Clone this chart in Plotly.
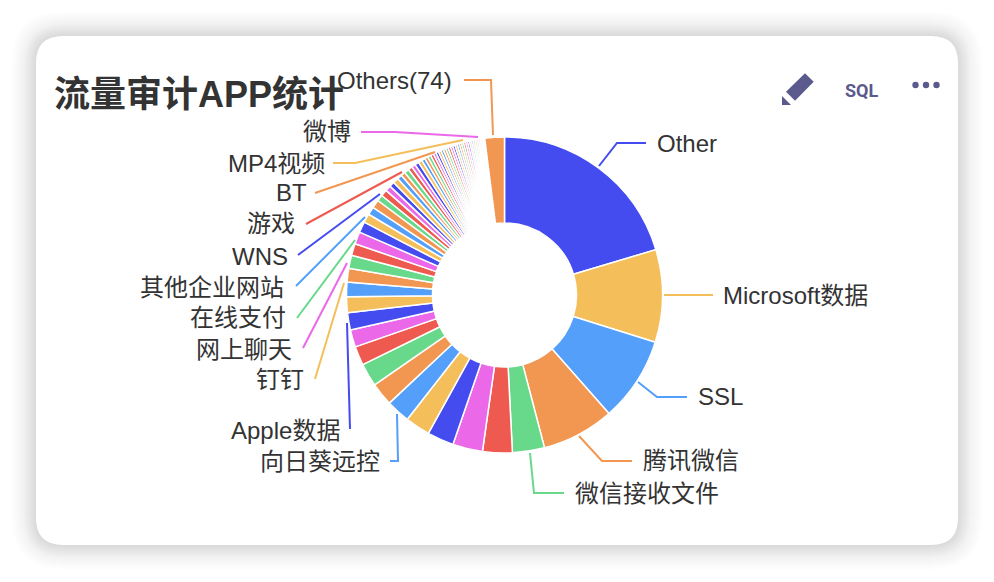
import math
import plotly.graph_objects as go

W, H = 994, 582

TITLE = "流量审计APP统计"
PALETTE = ["#444CF0", "#F4BF5B", "#549FF9", "#F29752", "#68D98A", "#EE5A50", "#EB68E8"]

NAMED = {0: "Other", 1: "Microsoft数据", 2: "SSL", 3: "腾讯微信", 4: "微信接收文件",
         9: "向日葵远控", 14: "Apple数据", 15: "钉钉", 20: "网上聊天", 25: "在线支付",
         30: "其他企业网站", 35: "WNS", 40: "游戏", 45: "BT", 50: "MP4视频", 55: "微博",
         66: "Others(74)"}

VALUES = [73.3, 34.1, 31.2, 26.7, 11.8, 10.9, 11.0, 9.8, 9.2, 8.8,
          8.5, 8.5, 7.0, 6.4, 6.3, 5.8, 5.4, 5.0, 4.8, 4.4,
          4.5, 4.0, 3.3, 2.9, 3.1, 2.3, 2.4, 2.1, 1.9, 2.0,
          1.8, 1.6, 1.7, 1.6, 1.4, 1.5, 1.4, 1.3, 1.2, 1.2,
          1.1, 1.0, 1.0, 0.98, 0.96, 0.95, 0.92, 0.9, 0.88, 0.86,
          0.85, 0.82, 0.8, 0.78, 0.78, 0.75, 0.72, 0.7, 0.68, 0.66,
          0.65, 0.62, 0.6, 0.58, 0.56, 0.55, 7.2]

LABELS = [NAMED.get(i, f"应用{i + 1}") for i in range(len(VALUES))]
COLORS = [PALETTE[i % 7] for i in range(len(VALUES))]

# Label placement: text, colour index, anchor, text x, text y, leader polyline (page pixels)
CALLOUTS = [
    ("Other", 0, "left", 655, 143.5, [(599, 166), (617, 143), (646, 143)]),
    ("Microsoft数据", 1, "left", 721, 295.5, [(664, 295), (713, 295)]),
    ("SSL", 2, "left", 696, 396.5, [(638, 382), (657, 397), (687, 397)]),
    ("腾讯微信", 3, "left", 641, 460, [(579, 436), (602, 461), (632, 461)]),
    ("微信接收文件", 4, "left", 573, 493, [(530, 453), (534, 493), (564, 493)]),
    ("向日葵远控", 2, "right", 382, 461, [(397, 414), (398, 461), (390, 461)]),
    ("Apple数据", 0, "right", 342, 430, [(347, 323), (350, 429)]),
    ("钉钉", 1, "right", 306, 379, [(344, 283), (315, 379)]),
    ("网上聊天", 6, "right", 294, 349, [(347, 263), (303, 348)]),
    ("在线支付", 4, "right", 288, 318, [(355, 240), (297, 318)]),
    ("其他企业网站", 2, "right", 286, 287, [(365, 217), (296, 286)]),
    ("WNS", 0, "right", 290, 256, [(380, 194), (298, 255)]),
    ("游戏", 5, "right", 297, 224, [(402, 172), (306, 224)]),
    ("BT", 3, "right", 309, 193, [(435, 152), (315, 193)]),
    ("MP4视频", 1, "right", 327, 163, [(463, 140), (355, 163), (333, 163)]),
    ("微博", 6, "right", 353, 132, [(478, 137), (395, 132), (361, 132)]),
    ("Others(74)", 3, "right", 454, 81, [(493, 135), (491, 80), (464, 80)]),
]

CX, CY, R, R_IN = 504.5, 295, 158, 72
FONT = "Liberation Sans, Noto Sans CJK SC, sans-serif"
TEXT = "#333333"
ICON = "#5A5A8C"


def px(x):
    return x / W


def py(y):
    return 1 - y / H


def round_rect(x0, y0, x1, y1, r):
    pts = [f"M{px(x0 + r)},{py(y0)}", f"L{px(x1 - r)},{py(y0)}",
           f"Q{px(x1)},{py(y0)} {px(x1)},{py(y0 + r)}", f"L{px(x1)},{py(y1 - r)}",
           f"Q{px(x1)},{py(y1)} {px(x1 - r)},{py(y1)}", f"L{px(x0 + r)},{py(y1)}",
           f"Q{px(x0)},{py(y1)} {px(x0)},{py(y1 - r)}", f"L{px(x0)},{py(y0 + r)}",
           f"Q{px(x0)},{py(y0)} {px(x0 + r)},{py(y0)}", "Z"]
    return " ".join(pts)


def poly(points):
    return "M" + " L".join(f"{px(x)},{py(y)}" for x, y in points)


shapes = []
# soft card shadow: stacked translucent rounded rectangles
steps = list(range(36, 0, -1))
weights = [math.exp(-(e * e) / (2 * 15.0 ** 2)) for e in steps]
for e, wt in zip(steps, weights):
    shapes.append(dict(type="path", xref="paper", yref="paper", layer="below",
                       path=round_rect(36 - e, 36 - e, 958 + e, 545 + e, 27 + e),
                       fillcolor=f"rgba(0,0,0,{0.15 * wt / sum(weights):.5f})", line=dict(width=0)))
# card
shapes.append(dict(type="path", xref="paper", yref="paper", layer="below",
                   path=round_rect(36, 36, 958, 545, 27),
                   fillcolor="#FFFFFF", line=dict(width=0)))
# leader lines
for _, c, _, _, _, pts in CALLOUTS:
    shapes.append(dict(type="path", xref="paper", yref="paper", layer="above",
                       path=poly(pts), line=dict(color=PALETTE[c], width=2)))
# toolbar icons
shapes.append(dict(type="path", xref="paper", yref="paper",
                   path=poly([(805, 73.3), (813.7, 81.7), (795, 100.7), (786, 91.7)]) + " Z",
                   fillcolor=ICON, line=dict(width=0)))
shapes.append(dict(type="path", xref="paper", yref="paper",
                   path=poly([(782, 96), (782, 105), (791, 105)]) + " Z",
                   fillcolor=ICON, line=dict(width=0)))
for dx in (915.5, 926, 936.5):
    shapes.append(dict(type="circle", xref="paper", yref="paper",
                       x0=px(dx - 3.2), x1=px(dx + 3.2), y0=py(85 + 3.2), y1=py(85 - 3.2),
                       fillcolor=ICON, line=dict(width=0)))

annotations = [dict(xref="paper", yref="paper", x=px(52), y=py(94.5), xanchor="left", yanchor="middle",
                    text=f"<b>{TITLE}</b>", showarrow=False,
                    font=dict(family=FONT, size=36, color=TEXT)),
               dict(xref="paper", yref="paper", x=px(861.5), y=py(90), xanchor="center", yanchor="middle",
                    text="<b>SQL</b>", showarrow=False,
                    font=dict(family="Roboto, sans-serif", size=18, color=ICON))]
for text, _, anchor, x, y, _ in CALLOUTS:
    annotations.append(dict(xref="paper", yref="paper", x=px(x), y=py(y), xanchor=anchor, yanchor="middle",
                            text=text, showarrow=False,
                            font=dict(family=FONT, size=24, color=TEXT)))

fig = go.Figure(go.Pie(
    labels=LABELS, values=VALUES, sort=False, direction="clockwise", rotation=0,
    hole=R_IN / R, textinfo="none", showlegend=False,
    marker=dict(colors=COLORS, line=dict(color="#FFFFFF", width=1.5)),
    domain=dict(x=[px(CX - R), px(CX + R)], y=[py(CY + R), py(CY - R)]),
))
fig.update_layout(width=W, height=H, margin=dict(l=0, r=0, t=0, b=0),
                  paper_bgcolor="#FFFFFF", plot_bgcolor="#FFFFFF",
                  shapes=shapes, annotations=annotations, showlegend=False)
fig.write_html("out.html", config=dict(displayModeBar=False),
               post_script="document.body.style.margin='0';")
